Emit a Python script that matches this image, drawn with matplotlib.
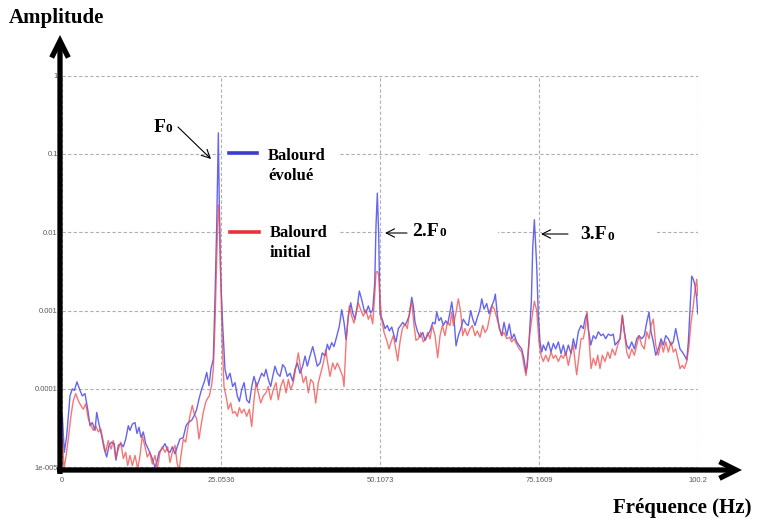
import numpy as np
import matplotlib
matplotlib.use("Agg")
import matplotlib.pyplot as plt
from matplotlib.patches import FancyArrowPatch, Rectangle
from matplotlib.lines import Line2D
from matplotlib.ticker import FixedLocator, FixedFormatter, NullLocator

# ---- spectra: (frequency in Hz, log10 of amplitude) ----
evolue = [
    (0.05, -4.34), (0.36, -4.81), (0.74, -4.60), (1.26, -4.09), (1.62, -4.00), (1.94, -4.02), (2.36, -3.91),
    (2.84, -4.02), (3.20, -4.09), (3.62, -4.06), (4.05, -4.26), (4.41, -4.47), (4.77, -4.43), (5.20, -4.53),
    (5.47, -4.30), (5.83, -4.45), (6.25, -4.60), (6.66, -4.77), (7.04, -4.87), (7.41, -4.72), (7.83, -4.68),
    (8.24, -4.70), (8.51, -4.91), (8.87, -4.72), (9.30, -4.70), (9.66, -4.74), (10.04, -4.64), (10.45, -4.47),
    (10.71, -4.53), (11.08, -4.45), (11.50, -4.43), (11.82, -4.57), (12.13, -4.49), (12.45, -4.62), (12.81, -4.55),
    (13.19, -4.70), (13.60, -4.77), (14.13, -4.87), (14.65, -5.00), (14.92, -4.94), (15.28, -4.81), (15.71, -4.77),
    (16.23, -4.70), (16.65, -4.79), (17.02, -4.81), (17.38, -4.74), (17.80, -4.83), (18.23, -4.72), (18.59, -4.64),
    (19.11, -4.62), (19.54, -4.47), (19.90, -4.43), (20.43, -4.40), (20.84, -4.34), (21.22, -4.26), (21.58, -4.13),
    (22.01, -4.00), (22.42, -3.91), (22.80, -3.79), (23.16, -3.96), (23.48, -3.74), (23.84, -3.62), (24.11, -2.82),
    (24.37, -1.92), (24.63, -0.73), (24.78, -1.63), (25.00, -2.56), (25.32, -3.20), (25.68, -3.75), (26.04, -3.88),
    (26.47, -3.80), (26.89, -3.97), (27.26, -3.92), (27.62, -4.09), (27.94, -4.16), (28.31, -4.01), (28.68, -3.92),
    (29.10, -4.14), (29.51, -4.18), (29.89, -3.97), (30.25, -3.84), (30.68, -3.97), (31.09, -3.88), (31.46, -3.80),
    (31.83, -3.84), (32.14, -3.75), (32.50, -3.88), (32.88, -3.97), (33.20, -3.84), (33.56, -3.71), (33.92, -3.80),
    (34.35, -3.84), (34.77, -3.69), (35.13, -3.73), (35.50, -3.84), (35.92, -3.80), (36.35, -3.90), (36.71, -3.75),
    (37.07, -3.67), (37.50, -3.80), (37.92, -3.71), (38.29, -3.58), (38.65, -3.71), (39.07, -3.58), (39.50, -3.46),
    (39.86, -3.58), (40.22, -3.71), (40.65, -3.67), (41.01, -3.54), (41.44, -3.58), (41.80, -3.43), (42.11, -3.50),
    (42.49, -3.41), (42.85, -3.46), (43.28, -3.33), (43.69, -3.20), (44.07, -2.99), (44.43, -3.15), (44.75, -3.37),
    (45.11, -3.07), (45.49, -2.90), (45.80, -3.03), (46.16, -3.11), (46.53, -2.94), (46.84, -2.75), (47.22, -2.86),
    (47.58, -2.99), (47.90, -3.03), (48.26, -2.94), (48.64, -3.03), (48.95, -2.99), (49.27, -2.65), (49.47, -1.92),
    (49.68, -1.50), (49.90, -2.05), (50.10, -3.05), (50.53, -3.13), (50.89, -3.23), (51.25, -3.19), (51.57, -3.26),
    (51.95, -3.21), (52.31, -3.32), (52.62, -3.40), (52.99, -3.23), (53.36, -3.19), (53.68, -3.15), (54.04, -3.19),
    (54.40, -3.13), (54.72, -3.06), (55.10, -2.83), (55.35, -2.94), (55.62, -3.15), (55.98, -3.26), (56.40, -3.34),
    (56.83, -3.28), (57.19, -3.38), (57.55, -3.32), (57.98, -3.26), (58.41, -3.15), (58.77, -3.17), (59.04, -3.02),
    (59.40, -3.13), (59.71, -3.09), (60.08, -3.19), (60.45, -3.13), (60.77, -3.17), (61.13, -3.02), (61.40, -2.89),
    (61.76, -3.11), (62.08, -3.45), (62.44, -3.32), (62.82, -3.23), (63.23, -3.11), (63.65, -3.17), (64.01, -3.19),
    (64.39, -3.00), (64.71, -3.11), (65.07, -3.19), (65.43, -3.09), (65.86, -2.98), (66.13, -2.85), (66.49, -2.98),
    (66.91, -2.91), (67.28, -3.04), (67.70, -2.94), (68.06, -2.87), (68.27, -2.79), (68.59, -3.06), (68.90, -3.23),
    (69.28, -3.32), (69.64, -3.15), (70.07, -3.32), (70.47, -3.17), (70.85, -3.36), (71.22, -3.30), (71.64, -3.40),
    (72.05, -3.45), (72.43, -3.49), (72.79, -3.62), (73.10, -3.79), (73.31, -3.70), (73.63, -3.32), (73.94, -2.89),
    (74.16, -2.20), (74.42, -1.84), (74.79, -2.43), (75.04, -3.06), (75.31, -3.40), (75.58, -3.53), (75.83, -3.44),
    (76.21, -3.51), (76.62, -3.40), (77.04, -3.53), (77.41, -3.42), (77.78, -3.49), (78.20, -3.40), (78.62, -3.55),
    (78.98, -3.44), (79.36, -3.57), (79.77, -3.44), (80.20, -3.55), (80.56, -3.36), (80.94, -3.49), (81.35, -3.27),
    (81.77, -3.19), (82.13, -3.23), (82.40, -3.11), (82.67, -3.04), (82.92, -3.23), (83.30, -3.44), (83.71, -3.32),
    (84.09, -3.36), (84.50, -3.27), (84.92, -3.32), (85.28, -3.30), (85.66, -3.36), (86.07, -3.30), (86.50, -3.32),
    (86.86, -3.30), (87.13, -3.44), (87.55, -3.40), (87.92, -3.36), (88.28, -3.06), (88.59, -3.27), (88.97, -3.44),
    (89.33, -3.49), (89.76, -3.40), (90.17, -3.49), (90.55, -3.36), (90.91, -3.32), (91.33, -3.36), (91.74, -3.32),
    (92.12, -3.15), (92.48, -3.02), (92.80, -3.27), (93.16, -3.40), (93.54, -3.57), (93.95, -3.49), (94.38, -3.36),
    (94.74, -3.44), (95.12, -3.32), (95.53, -3.36), (95.95, -3.44), (96.31, -3.40), (96.69, -3.23), (97.01, -3.36),
    (97.37, -3.49), (97.73, -3.53), (98.05, -3.57), (98.43, -3.63), (98.68, -3.40), (98.95, -2.98), (99.21, -2.56),
    (99.46, -2.60), (99.73, -2.68), (100.00, -2.85), (100.16, -3.04),
]

initial = [
    (0.05, -4.64), (0.32, -5.02), (0.58, -4.89), (0.99, -4.64), (1.42, -4.34), (1.78, -4.15), (2.16, -4.06),
    (2.57, -4.15), (2.95, -4.21), (3.36, -4.26), (3.73, -4.19), (4.14, -4.38), (4.57, -4.47), (4.93, -4.53),
    (5.31, -4.47), (5.72, -4.55), (6.10, -4.51), (6.51, -4.68), (6.88, -4.81), (7.29, -4.66), (7.72, -4.77),
    (8.08, -4.66), (8.46, -4.89), (8.87, -4.77), (9.25, -4.68), (9.66, -4.89), (10.04, -4.81), (10.35, -4.98),
    (10.71, -4.85), (11.08, -4.98), (11.50, -4.85), (11.93, -5.02), (12.29, -4.85), (12.65, -4.60), (13.08, -4.74),
    (13.44, -4.87), (13.86, -4.81), (14.23, -4.96), (14.65, -4.85), (15.02, -5.02), (15.44, -4.81), (15.80, -4.74),
    (16.23, -4.81), (16.65, -4.74), (17.02, -4.94), (17.38, -4.81), (17.80, -4.72), (18.12, -4.94), (18.43, -5.05),
    (18.75, -4.85), (19.11, -4.64), (19.49, -4.68), (19.80, -4.51), (20.17, -4.34), (20.53, -4.21), (20.84, -4.32),
    (21.22, -4.38), (21.58, -4.64), (21.90, -4.47), (22.26, -4.30), (22.64, -4.17), (22.95, -4.12), (23.21, -4.09),
    (23.58, -3.95), (23.84, -3.75), (24.11, -3.16), (24.37, -2.35), (24.63, -1.65), (24.78, -1.80), (25.00, -2.56),
    (25.25, -3.41), (25.52, -3.97), (25.84, -4.09), (26.20, -4.26), (26.58, -4.18), (26.89, -4.31), (27.26, -4.29),
    (27.62, -4.35), (27.94, -4.24), (28.31, -4.31), (28.68, -4.26), (29.10, -4.35), (29.51, -4.26), (29.89, -4.48),
    (30.25, -4.14), (30.57, -3.92), (30.93, -4.05), (31.31, -4.18), (31.72, -4.09), (32.14, -4.05), (32.50, -3.97),
    (32.88, -4.14), (33.29, -4.01), (33.72, -3.92), (34.08, -4.14), (34.46, -3.97), (34.87, -3.88), (35.29, -4.05),
    (35.66, -3.88), (36.03, -4.01), (36.44, -3.92), (36.87, -3.71), (37.23, -3.54), (37.61, -3.75), (38.02, -3.92),
    (38.44, -3.84), (38.81, -4.05), (39.18, -3.88), (39.59, -3.92), (39.97, -4.18), (40.38, -3.92), (40.76, -3.80),
    (41.17, -3.67), (41.55, -3.50), (41.86, -3.67), (42.22, -3.84), (42.65, -3.67), (43.01, -3.75), (43.38, -3.67),
    (43.80, -3.75), (44.23, -3.84), (44.43, -3.97), (44.75, -3.41), (45.01, -3.16), (45.27, -2.94), (45.64, -3.07),
    (46.00, -3.16), (46.32, -3.03), (46.68, -2.90), (47.06, -2.99), (47.47, -3.07), (47.90, -2.99), (48.26, -3.11),
    (48.64, -3.05), (48.95, -3.17), (49.27, -2.80), (49.47, -2.51), (49.68, -2.50), (49.90, -2.55), (50.10, -2.85),
    (50.37, -3.11), (50.74, -3.28), (51.16, -3.38), (51.53, -3.49), (51.84, -3.40), (52.20, -3.32), (52.58, -3.49),
    (52.89, -3.64), (53.25, -3.40), (53.62, -3.23), (54.04, -3.17), (54.40, -3.23), (54.83, -2.98), (55.10, -2.89),
    (55.46, -3.19), (55.77, -3.38), (56.14, -3.36), (56.51, -3.28), (56.93, -3.40), (57.30, -3.36), (57.62, -3.28),
    (57.98, -3.36), (58.34, -3.19), (58.77, -3.32), (59.19, -3.60), (59.56, -3.32), (59.92, -3.19), (60.34, -3.32),
    (60.71, -3.15), (61.13, -3.19), (61.40, -3.02), (61.65, -3.19), (62.08, -3.02), (62.44, -2.85), (62.82, -3.02),
    (63.13, -3.32), (63.49, -3.23), (63.86, -3.32), (64.28, -3.23), (64.65, -3.19), (65.07, -3.32), (65.43, -3.26),
    (65.86, -3.34), (66.28, -3.19), (66.65, -3.28), (67.01, -3.23), (67.43, -3.06), (67.80, -2.94), (68.11, -2.98),
    (68.49, -3.09), (68.85, -3.19), (69.28, -3.32), (69.64, -3.28), (70.07, -3.36), (70.47, -3.34), (70.85, -3.40),
    (71.22, -3.36), (71.64, -3.43), (72.05, -3.49), (72.43, -3.53), (72.79, -3.70), (73.10, -3.83), (73.37, -3.60),
    (73.73, -3.28), (74.09, -3.06), (74.42, -2.88), (74.79, -3.00), (75.15, -3.40), (75.47, -3.57), (75.83, -3.65),
    (76.21, -3.57), (76.62, -3.65), (77.04, -3.53), (77.41, -3.61), (77.78, -3.57), (78.20, -3.65), (78.62, -3.57),
    (78.98, -3.61), (79.36, -3.53), (79.77, -3.70), (80.20, -3.53), (80.56, -3.44), (80.83, -3.65), (81.09, -3.82),
    (81.46, -3.57), (81.77, -3.36), (82.13, -3.36), (82.51, -3.19), (82.72, -3.02), (83.03, -3.36), (83.35, -3.74),
    (83.71, -3.61), (84.09, -3.70), (84.40, -3.57), (84.76, -3.74), (85.13, -3.57), (85.55, -3.65), (85.98, -3.53),
    (86.34, -3.61), (86.70, -3.49), (87.13, -3.57), (87.55, -3.44), (87.92, -3.36), (88.28, -3.06), (88.59, -3.27),
    (88.97, -3.53), (89.33, -3.61), (89.76, -3.49), (90.17, -3.57), (90.55, -3.44), (90.91, -3.32), (91.33, -3.44),
    (91.74, -3.49), (92.12, -3.27), (92.48, -3.36), (92.80, -3.19), (93.16, -3.11), (93.54, -3.44), (93.95, -3.57),
    (94.38, -3.40), (94.74, -3.53), (95.12, -3.40), (95.53, -3.53), (95.95, -3.40), (96.31, -3.53), (96.69, -3.49),
    (97.01, -3.61), (97.37, -3.74), (97.73, -3.70), (98.05, -3.74), (98.43, -3.65), (98.79, -3.44), (99.10, -3.15),
    (99.46, -2.94), (99.73, -2.73), (100.00, -2.60), (100.16, -2.81),
]

x_ticks = [0, 25.0536, 50.1073, 75.1609, 100.2]
x_tick_labels = ["0", "25.0536", "50.1073", "75.1609", "100.2"]
y_ticks = [1, 0.1, 0.01, 0.001, 0.0001, 0.00001]
y_tick_labels = ["1", "0.1", "0.01", "0.001", "0.0001", "1e-005"]

# ---- figure in pixel units ----
W, H = 783, 519
fig = plt.figure(figsize=(W / 100, H / 100), dpi=100)
fig.patch.set_facecolor("white")


def fx(x):
    return x / W


def fy(y):
    return 1 - y / H


ax = fig.add_axes([fx(62), fy(470), (698 - 62) / W, (470 - 75.7) / H])
ax.set_yscale("log")
ax.set_xlim(0, 100.2)
ax.set_ylim(10 ** -5.036, 1)

ax.xaxis.set_major_locator(FixedLocator(x_ticks))
ax.xaxis.set_major_formatter(FixedFormatter(x_tick_labels))
ax.yaxis.set_major_locator(FixedLocator(y_ticks))
ax.yaxis.set_major_formatter(FixedFormatter(y_tick_labels))
ax.yaxis.set_minor_locator(NullLocator())
ax.xaxis.set_minor_locator(NullLocator())

for s in ax.spines.values():
    s.set_visible(False)
ax.set_facecolor("white")
ax.set_axisbelow(True)
ax.grid(True, which="major", color="#b0b0b0", linestyle=(0, (3, 2)), linewidth=0.8)
ax.tick_params(axis="both", length=0, labelsize=5.5, labelcolor="#5a5a5a")
ax.tick_params(axis="y", pad=3)
ax.tick_params(axis="x", pad=5)
for lab in ax.get_xticklabels() + ax.get_yticklabels():
    lab.set_family("Liberation Sans")

# white panels behind the annotations
for x0, y0, x1, y1 in [(224, 140, 338, 262), (383, 222, 498, 246), (542, 222, 657, 246), (420, 150, 428, 160)]:
    ax.add_patch(Rectangle((fx(x0), fy(y1)), (x1 - x0) / W, (y1 - y0) / H, transform=fig.transFigure,
                           facecolor="white", edgecolor="none", zorder=1, clip_on=False))

ev = np.array(evolue)
ini = np.array(initial)
ax.plot(ev[:, 0], 10 ** ev[:, 1], color="#4a4aec", lw=1.0, alpha=0.85, zorder=2)
ax.plot(ini[:, 0], 10 ** ini[:, 1], color="#f04a4a", lw=1.0, alpha=0.75, zorder=3)

# legend
fig.add_artist(Line2D([fx(229), fx(257)], [fy(153.3)] * 2, color="#3c3cd2", lw=2.6))
fig.add_artist(Line2D([fx(230), fx(259)], [fy(232.3)] * 2, color="#e8323c", lw=2.6))
serif = dict(family="Liberation Serif", weight="bold", va="baseline", color="black")
fig.text(fx(268), fy(159.5), "Balourd", size=12, **serif)
fig.text(fx(268), fy(180), "évolué", size=12, **serif)
fig.text(fx(270), fy(237), "Balourd", size=12, **serif)
fig.text(fx(270), fy(257), "initial", size=12, **serif)

# axis titles
fig.text(fx(9), fy(23), "Amplitude", size=15, **serif)
fig.text(fx(613), fy(513), "Fréquence (Hz)", size=15, **serif)

# harmonic labels: main text followed by a small "0"
renderer = fig.canvas.get_renderer()
for x, y, s in [(153.5, 131.5, "F"), (412.5, 235.5, "2.F"), (580, 239, "3.F")]:
    t = fig.text(fx(x), fy(y), s, size=14, **serif)
    bb = t.get_window_extent(renderer)
    fig.text(fx(bb.x1 + 0.5), fy(y + 0.5), "0", size=9.5, **serif)

for (xa, ya), (xb, yb) in [((178, 127), (211, 159)), ((407, 233), (385, 233)), ((568, 234), (541, 234))]:
    fig.add_artist(FancyArrowPatch((fx(xa), fy(ya)), (fx(xb), fy(yb)), transform=fig.transFigure,
                                   arrowstyle="->,head_length=0.6,head_width=0.3", mutation_scale=10,
                                   lw=0.8, color="black", shrinkA=0, shrinkB=0))

# thick axis arrows
for (xa, ya), (xb, yb) in [((60, 474), (60, 35)), ((57, 470), (742, 470))]:
    fig.add_artist(FancyArrowPatch((fx(xa), fy(ya)), (fx(xb), fy(yb)), transform=fig.transFigure,
                                   arrowstyle="->,head_length=1.2,head_width=0.6", mutation_scale=10,
                                   lw=3.8, color="black", shrinkA=0, shrinkB=0, capstyle="butt",
                                   joinstyle="miter"))

fig.savefig("out.png", dpi=100, facecolor="white")
